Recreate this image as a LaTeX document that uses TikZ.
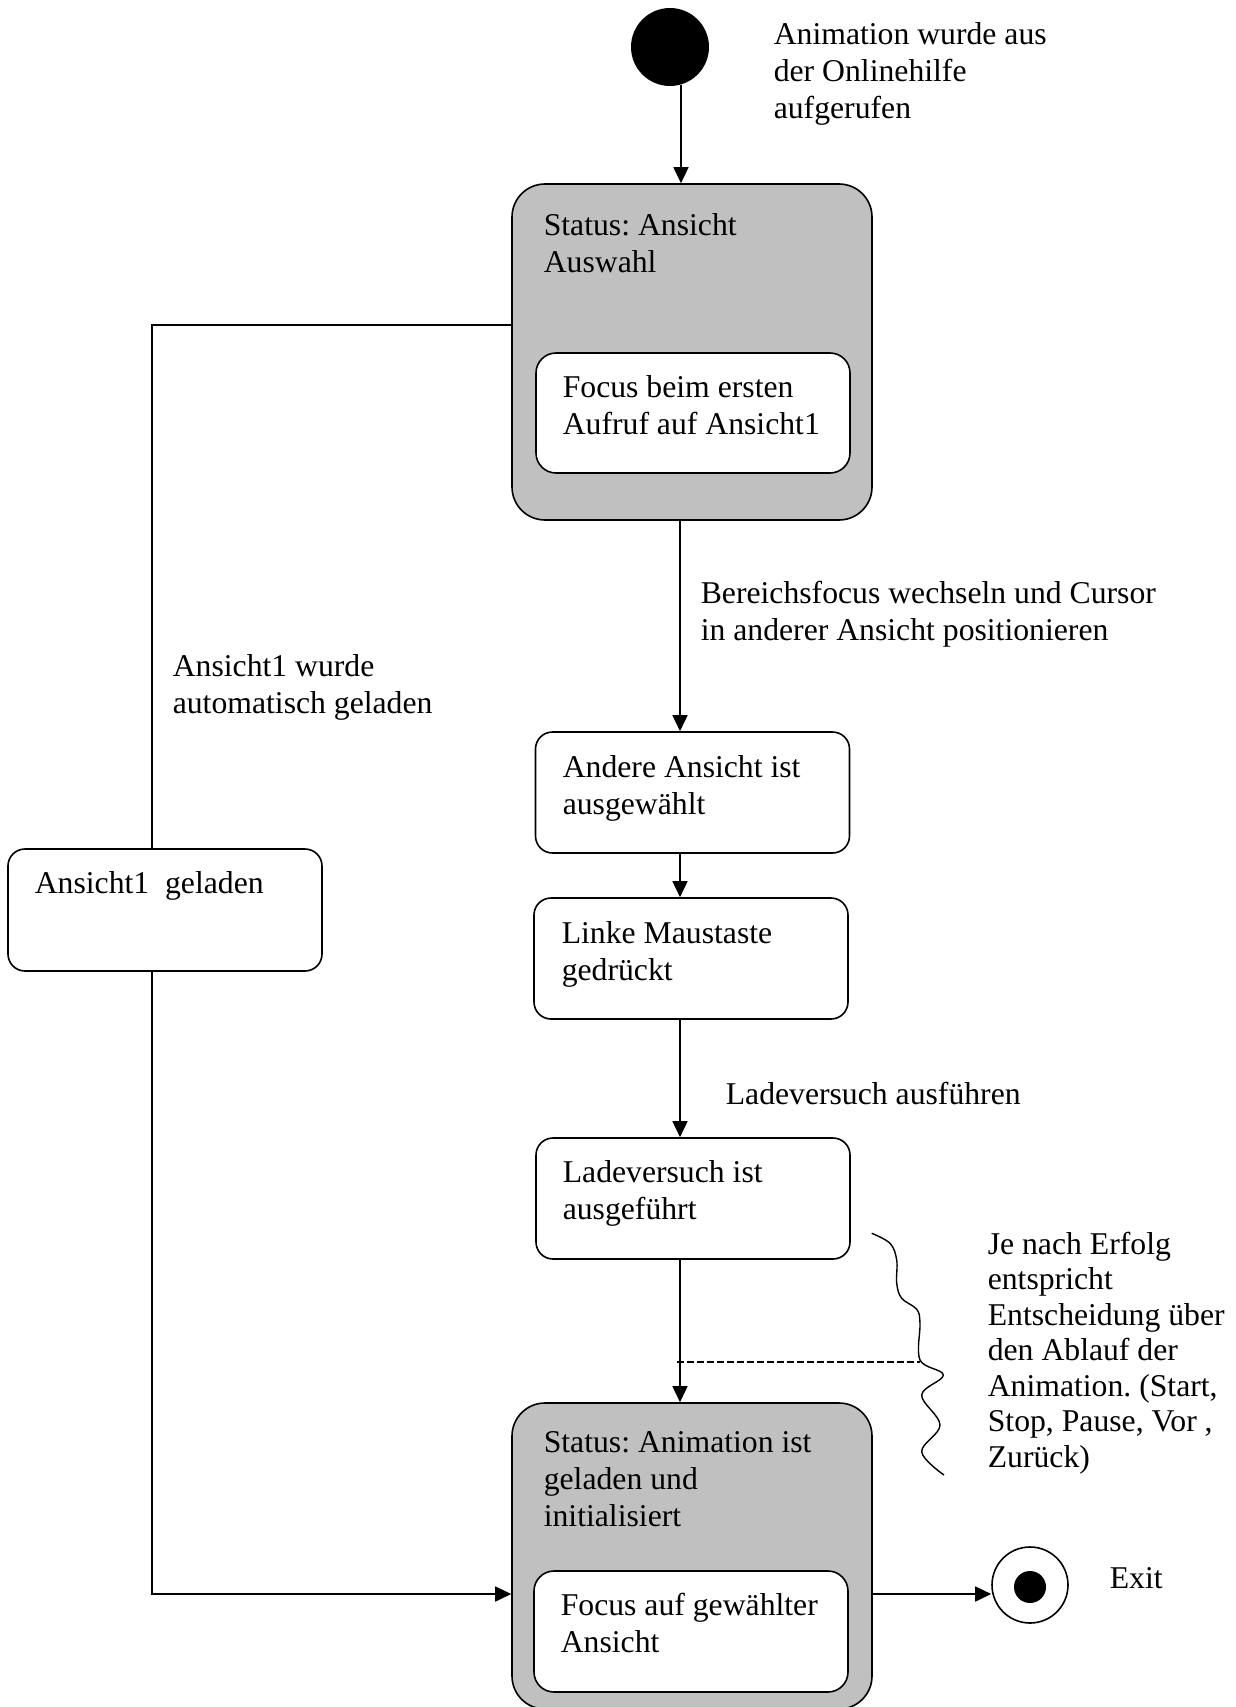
\documentclass[tikz,border=0pt]{standalone}
\usepackage{fontspec}
\setmainfont{Liberation Serif}
\usetikzlibrary{arrows.meta}
\definecolor{boxgray}{HTML}{C0C0C0}
\frenchspacing
\begin{document}
\begin{tikzpicture}[x=1pt,y=-1pt,
  line width=1.6pt,
  txt/.style={anchor=base west, inner sep=0pt, align=left, font=\fontsize{31.7}{37}\selectfont},
  statebox/.style={draw, fill=white, rounded corners=17pt, minimum width=314pt, minimum height=121pt, inner sep=0pt},
  innerbox/.style={draw, fill=white, rounded corners=20pt, minimum width=314pt, minimum height=121pt, inner sep=0pt},
  superbox/.style={draw, fill=boxgray, rounded corners=33pt, minimum width=360pt, inner sep=0pt},
  arr/.style={-{Triangle[length=16pt,width=15pt]}},
]
\useasboundingbox (0,0) rectangle (1235,1707);

% coordinates for connector routing
\coordinate (mx) at (680,0);
\coordinate (lx) at (152,0);
\coordinate (ly) at (0,325);
\coordinate (ey) at (0,1594);
\coordinate (dj) at (920,1362);
\coordinate (ds) at (677,1362);

% start
\node[circle, fill=black, minimum size=78pt, inner sep=0pt] (start) at (670,47) {};

% super states
\node[superbox, minimum height=336pt] (box1) at (692,352) {};
\node[innerbox, minimum height=120pt] (in1) at (693,413) {};
\node[superbox, minimum height=306pt] (box2) at (692,1556) {};
\node[innerbox] (in2) at (691,1631.5) {};

% simple states
\node[statebox] (andere) at (692.5,792.5) {};
\node[statebox] (linke) at (691,958.5) {};
\node[statebox] (lade) at (693,1198.5) {};
\node[statebox, minimum height=122pt] (ans) at (165,910) {};

% exit
\node[circle, draw, fill=white, minimum size=76pt, inner sep=0pt] (exit) at (1030,1585) {};
\node[circle, fill=black, minimum size=32pt, inner sep=0pt] (exitdot) at (1030,1587) {};

% texts (anchor = baseline of the last line)
\node[txt] (t0) at (773,119) {Animation wurde aus\\der Onlinehilfe\\aufgerufen};
\node[txt] (t1) at (543,272) {Status: Ansicht\\Auswahl};
\node[txt] (t2) at (562,434) {Focus beim ersten\\Aufruf auf Ansicht1};
\node[txt] (t3) at (700,640) {Bereichsfocus wechseln und Cursor\\in anderer Ansicht positionieren};
\node[txt] (t4) at (172,713) {Ansicht1 wurde\\automatisch geladen};
\node[txt] (t5) at (562,814) {Andere Ansicht ist\\ausgewählt};
\node[txt] (t6) at (34,893) {Ansicht1\ \ geladen};
\node[txt] (t7) at (561,980) {Linke Maustaste\\gedrückt};
\node[txt] (t8) at (725,1104) {Ladeversuch ausführen};
\node[txt] (t9) at (562,1219) {Ladeversuch ist\\ausgeführt};
\node[txt, font=\fontsize{31.7}{35.5}\selectfont] (t10) at (987,1467) {Je nach Erfolg\\entspricht\\Entscheidung über\\den Ablauf der\\Animation. (Start,\\Stop, Pause, Vor ,\\Zurück)};
\node[txt] (t11) at (543,1526) {Status: Animation ist\\geladen und\\initialisiert};
\node[txt] (t12) at (560,1652) {Focus auf gewählter\\Ansicht};
\node[txt] (t13) at (1109,1588) {Exit};

% connectors
\draw[arr] (start.-74) -- (start.-74 |- box1.north);
\draw[arr] (box1.south -| mx) -- (andere.north -| mx);
\draw[arr] (andere.south -| mx) -- (linke.north -| mx);
\draw[arr] (linke.south -| mx) -- (lade.north -| mx);
\draw[arr] (lade.south -| mx) -- (box2.north -| mx);
\draw (box1.west |- ly) -| (ans.north -| lx);
\draw[arr] (ans.south -| lx) |- (box2.west |- ey);
\draw[arr] (box2.east |- ey) -- (ey -| exit.west);

% dashed line and wavy note line
\draw[dashed, dash pattern=on 7pt off 3pt, line width=1.4pt] (ds) -- (dj);
\draw[line width=1.4pt] plot[smooth, tension=0.6] coordinates {(871.7,1233.3) (890,1243.3) (896.7,1260) (896.7,1283.3) (901.7,1298.3) (916.7,1309.3) (920,1323.3) (920,1360) (943.3,1375) (921.7,1395) (940,1425) (921.7,1451.7) (944,1475)};
\end{tikzpicture}
\end{document}
